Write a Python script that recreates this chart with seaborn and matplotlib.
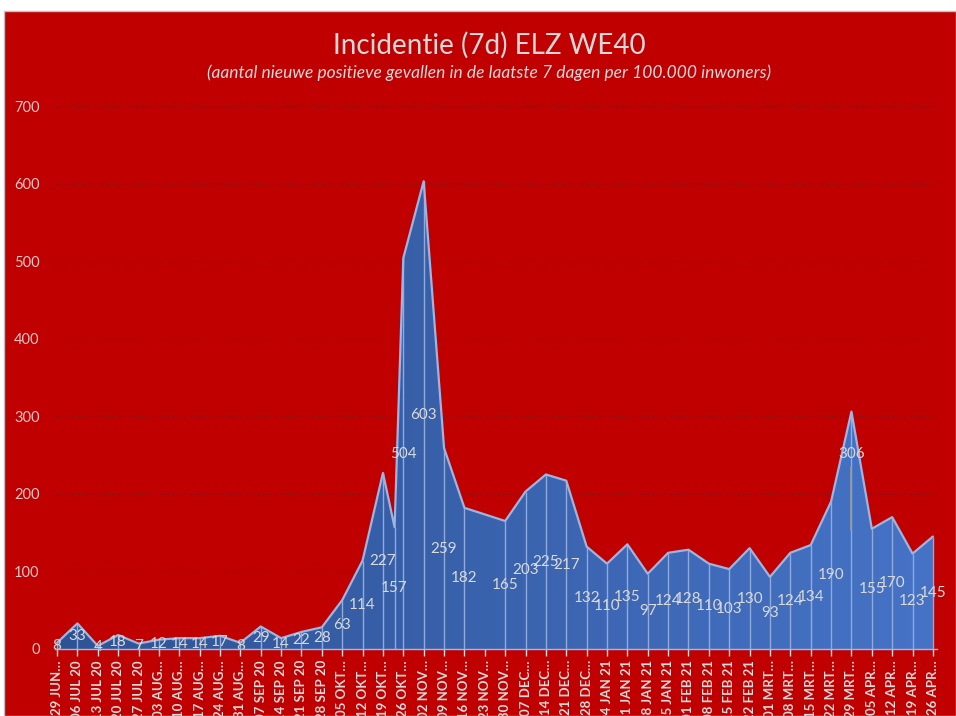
import numpy as np
import pandas as pd
import matplotlib
matplotlib.use("Agg")
import matplotlib.pyplot as plt
import matplotlib.dates as mdates
import seaborn as sns
from matplotlib.colors import LinearSegmentedColormap
from matplotlib.patches import Rectangle, PathPatch

# data
dates = ["2020-06-29", "2020-07-06", "2020-07-13", "2020-07-20", "2020-07-27",
         "2020-08-03", "2020-08-10", "2020-08-17", "2020-08-24", "2020-08-31",
         "2020-09-07", "2020-09-14", "2020-09-21", "2020-09-28", "2020-10-05",
         "2020-10-12", "2020-10-19", "2020-10-23", "2020-10-26", "2020-11-02",
         "2020-11-09", "2020-11-16", "2020-11-30", "2020-12-07", "2020-12-14",
         "2020-12-21", "2020-12-28", "2021-01-04", "2021-01-11", "2021-01-18",
         "2021-01-25", "2021-02-01", "2021-02-08", "2021-02-15", "2021-02-22",
         "2021-03-01", "2021-03-08", "2021-03-15", "2021-03-22", "2021-03-29",
         "2021-04-05", "2021-04-12", "2021-04-19", "2021-04-26"]
incidence = [8, 33, 4, 18, 7, 12, 14, 14, 17, 8,
             29, 14, 22, 28, 63, 114, 227, 157, 504, 603,
             259, 182, 165, 203, 225, 217, 132, 110, 135, 97,
             124, 128, 110, 103, 130, 93, 124, 134, 190, 306,
             155, 170, 123, 145]

tick_dates = pd.date_range("2020-06-29", "2021-04-26", freq="7D")
tick_labels = ["29 JUN\u2026", "06 JUL 20", "13 JUL 20", "20 JUL 20", "27 JUL 20",
               "03 AUG\u2026", "10 AUG\u2026", "17 AUG\u2026", "24 AUG\u2026", "31 AUG\u2026",
               "07 SEP 20", "14 SEP 20", "21 SEP 20", "28 SEP 20",
               "05 OKT\u2026", "12 OKT\u2026", "19 OKT\u2026", "26 OKT\u2026",
               "02 NOV\u2026", "09 NOV\u2026", "16 NOV\u2026", "23 NOV\u2026", "30 NOV\u2026",
               "07 DEC\u2026", "14 DEC\u2026", "21 DEC\u2026", "28 DEC\u2026",
               "04 JAN 21", "11 JAN 21", "18 JAN 21", "25 JAN 21",
               "01 FEB 21", "08 FEB 21", "15 FEB 21", "22 FEB 21",
               "01 MRT\u2026", "08 MRT\u2026", "15 MRT\u2026", "22 MRT\u2026", "29 MRT\u2026",
               "05 APR\u2026", "12 APR\u2026", "19 APR\u2026", "26 APR\u2026"]

sns.set_theme(style="white")
plt.rcParams['font.family'] = ['Lato', 'DejaVu Sans']

RED = "#C00000"
TXT = "#D9D9D9"

fig = plt.figure(figsize=(9.56, 7.16), dpi=100)
fig.patch.set_facecolor("white")
fig.patches.append(Rectangle((4 / 956, 0), 952 / 956, 705 / 716, transform=fig.transFigure,
                             facecolor=RED, edgecolor="#BFBFBF", lw=1, zorder=-10))

ax = fig.add_axes([55 / 956, 1 - 649 / 716, (937 - 55) / 956, (649 - 106) / 716])
ax.set_facecolor("none")

x = mdates.date2num(pd.to_datetime(dates))
y = np.array(incidence, dtype=float)

# gradient filled area
poly = ax.fill_between(x, 0, y, facecolor="none", edgecolor="none")
clip = PathPatch(poly.get_paths()[0], transform=ax.transData, facecolor="none", edgecolor="none")
ax.add_patch(clip)
cmap = LinearSegmentedColormap.from_list("blues", ["#2E5395", "#4673C6"])
im = ax.imshow(np.linspace(0, 1, 256).reshape(1, -1), extent=[x[0], x[-1], 0, 700],
               aspect="auto", cmap=cmap, origin="lower", zorder=1)
im.set_clip_path(clip)

ax.vlines(x, 0, y, color="#8FAADC", lw=1, zorder=2)
sns.lineplot(x=x, y=y, ax=ax, color="#9DB5E0", lw=1.6, zorder=3)

# data labels in the middle of the area
for xi, v in zip(x, incidence):
    ypos = v / 2
    if v == 306:
        ypos = 252
        ax.plot([xi, xi], [153, 234], color="#9A9A9A", lw=1.2, zorder=3)
    ax.text(xi, ypos, str(v), ha="center", va="center", color=TXT, fontsize=11, zorder=4)

ax.set_xlim(x[0] - 0.7, x[-1] + 1.4)
ax.set_ylim(0, 700)

ax.set_yticks(range(0, 701, 100))
ax.yaxis.grid(True, color="#7A1A1A", linestyle=(0, (1, 2)), lw=0.9)
ax.set_axisbelow(True)
ax.tick_params(axis="y", length=0, pad=11, labelcolor="#E3C6C6", labelsize=10.5)

ax.set_xticks(mdates.date2num(tick_dates))
ax.set_xticklabels(tick_labels, rotation=90, fontweight="bold")
ax.tick_params(axis="x", direction="out", length=5, width=1, color="#D9D9D9",
               labelcolor=TXT, labelsize=9.5, pad=3, bottom=True)

for s in ["left", "top", "right"]:
    ax.spines[s].set_visible(False)
ax.spines["bottom"].set_color("#A9B8D8")
ax.spines["bottom"].set_linewidth(1)
ax.spines["bottom"].set_zorder(5)

fig.text(489 / 956, 1 - 45 / 716, "Incidentie (7d) ELZ WE40", ha="center", va="center",
         color=TXT, fontsize=20)
fig.text(489 / 956, 1 - 73 / 716,
         "(aantal nieuwe positieve gevallen in de laatste 7 dagen per 100.000 inwoners)",
         ha="center", va="center", color=TXT, fontsize=12.5, style="italic")

fig.savefig("out.png", dpi=100, facecolor=fig.get_facecolor())
